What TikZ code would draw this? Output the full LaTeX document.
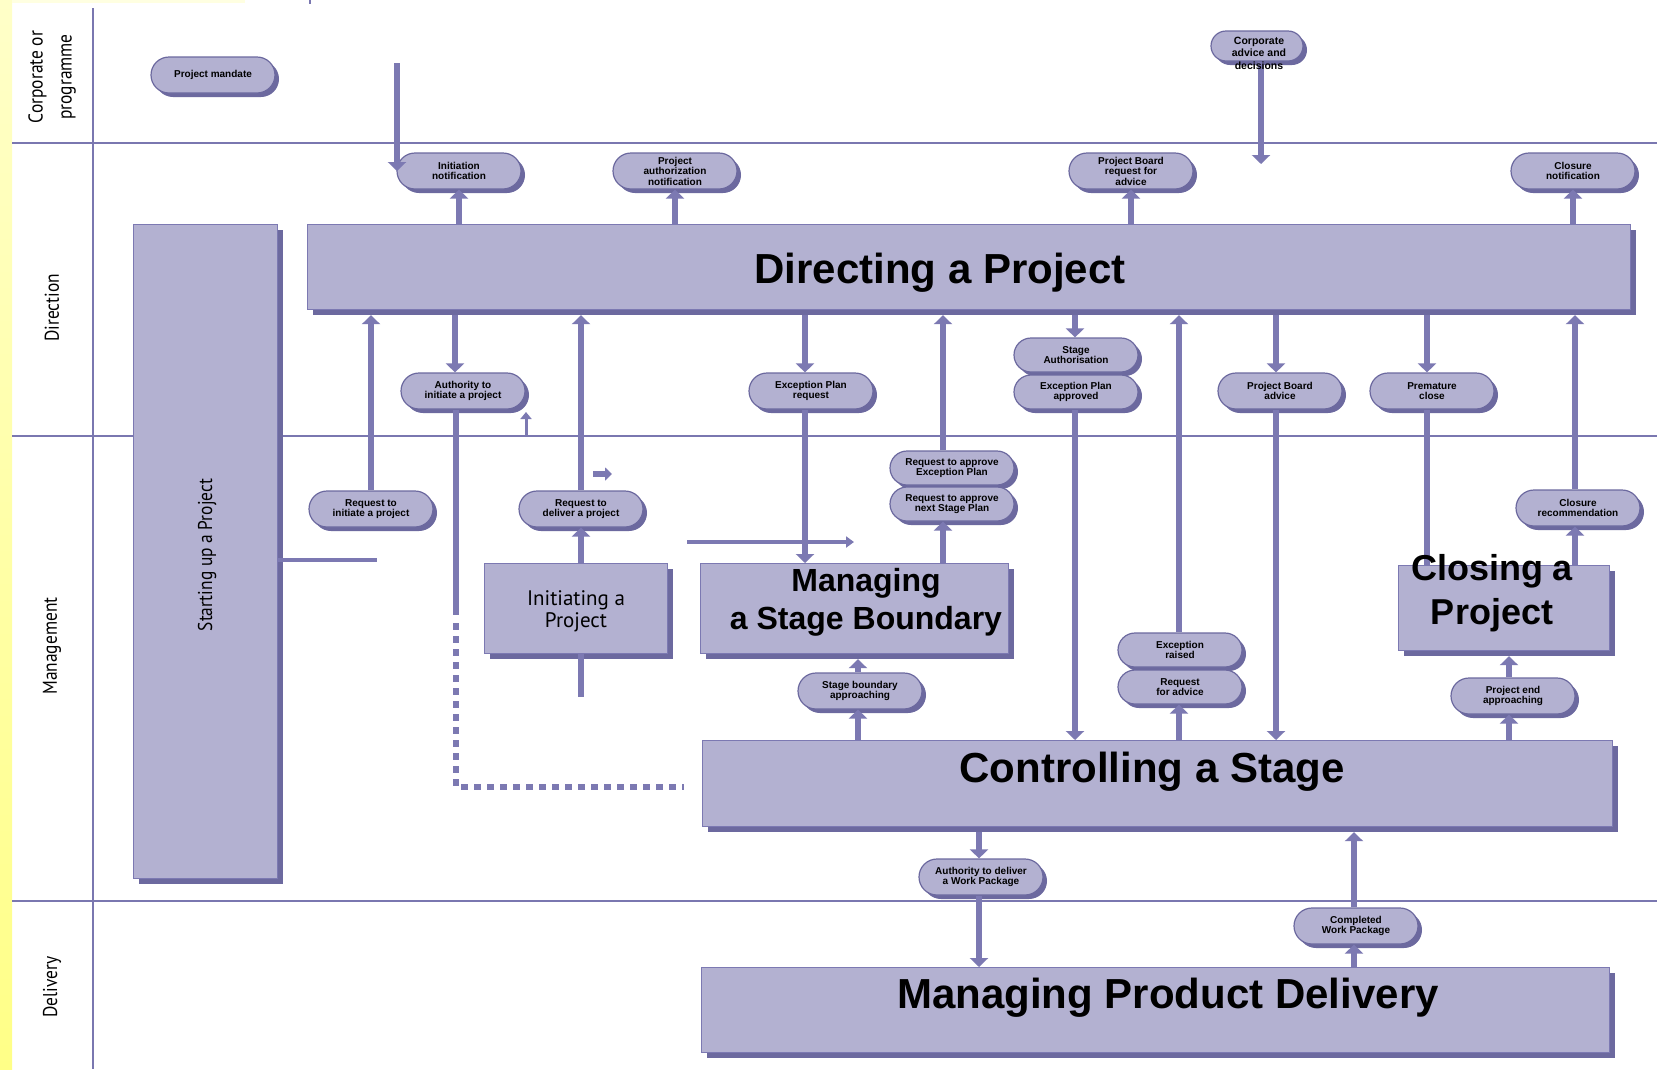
\documentclass[tikz,border=0pt]{standalone}
\usepackage{fontspec}
\setmainfont{Liberation Sans}
\newfontfamily\myr[FakeStretch=0.87]{PT Sans}
\newfontfamily\myrn{PT Sans}
\usetikzlibrary{arrows.meta,shapes.misc,shadows,calc}
\definecolor{lav}{RGB}{179,177,209}
\definecolor{lavd}{RGB}{108,105,159}
\definecolor{arrc}{RGB}{124,121,178}
\definecolor{lanec}{RGB}{122,119,176}
\definecolor{ylw}{RGB}{255,255,135}
\definecolor{ylwl}{RGB}{255,255,200}
\definecolor{ylwt}{RGB}{255,255,225}
\begin{document}
\begin{tikzpicture}[x=1pt,y=-1pt,
  pill/.style={rounded rectangle, fill=lav, draw=lavd, line width=1.2pt,
    minimum width=126pt, minimum height=36pt, inner sep=1pt, align=center,
    font=\fontsize{10}{10.5}\selectfont\bfseries,
    drop shadow={shadow xshift=4pt, shadow yshift=-4pt, fill=lavd, opacity=1}},
  proc/.style={rectangle, fill=lav, draw=arrc, line width=1.2pt, anchor=north west, inner sep=0pt,
    drop shadow={shadow xshift=5pt, shadow yshift=-5pt, fill=lavd, opacity=1}},
  bigt/.style={font=\bfseries\fontsize{42}{50}\selectfont, inner sep=0pt},
  lanelbl/.style={font=\myr\fontsize{20}{29}\selectfont, rotate=90, align=center, inner sep=0pt},
  lane/.style={draw=lanec, line width=2pt},
  arr/.style={draw=arrc, line width=6.5pt, -{Triangle[width=18pt,length=9pt]}},
  ln/.style={draw=arrc, line width=6.5pt},
  dashln/.style={draw=arrc, line width=6.5pt, dash pattern=on 7pt off 6pt},
  tharr/.style={draw=arrc, line width=3.5pt, -{Triangle[width=11pt,length=8pt]}},
  smarr/.style={draw=arrc, line width=3pt, -{Triangle[width=11pt,length=7pt]}},
  smarrb/.style={draw=arrc, line width=6pt, -{Triangle[width=13pt,length=7pt]}}
]
\useasboundingbox (0,0) rectangle (1657,1069);
\fill[white] (0,0) rectangle (1657,1069);
\shade[top color=ylwl, bottom color=ylw] (0,0) rectangle (12,1069);
\fill[ylwt] (12,0) rectangle (245,3);
\draw[lanec, line width=1.5pt] (310,0) -- (310,4);
% lanes
\draw[lane] (93,8) -- (93,1069);
\draw[lane] (12,143) -- (1657,143);
\draw[lane] (12,436) -- (1657,436);
\draw[lane] (12,901) -- (1657,901);
\node[lanelbl] (lcorp) at (52,77) {Corporate or\\programme};
\node[lanelbl] (ldir) at (52,308) {Direction};
\node[lanelbl] (lman) at (52,646) {Management};
\node[lanelbl] (ldel) at (52,987) {Delivery};

% process boxes
\node[proc, minimum width=144pt, minimum height=654pt] (su) at (133,224) {};
\node[proc, minimum width=1323pt, minimum height=85pt] (dap) at (307,224) {};
\node[proc, minimum width=183pt, minimum height=90pt] (ini) at (484,563) {};
\node[proc, minimum width=308pt, minimum height=90pt] (msb) at (700,563) {};
\node[proc, minimum width=211pt, minimum height=85pt] (clo) at (1398,565) {};
\node[proc, minimum width=910pt, minimum height=86pt] (cs) at (702,740) {};
\node[proc, minimum width=908pt, minimum height=85pt] (mpd) at (701,967) {};

% products (pills)
\node[pill] (mand) at (213,75) {Project mandate};
\node[pill, minimum width=94pt, minimum height=30pt] (corp) at (1257,46) {};
\node[pill] (init) at (459,171) {Initiation\\notification};
\node[pill] (pauth) at (675,171) {Project\\authorization\\notification};
\node[pill] (pbreq) at (1131,171) {Project Board\\request for\\advice};
\node[pill] (cnot) at (1573,171) {Closure\\notification};
\node[pill] (auth) at (463,391) {Authority to\\initiate a project};
\node[pill] (rinit) at (371,509) {Request to\\initiate a project};
\node[pill] (rdel) at (581,509) {Request to\\deliver a project};
\node[pill] (eprq) at (811,391) {Exception Plan\\request};
\node[pill, minimum height=34pt] (rqep) at (952,468) {Request to approve\\Exception Plan};
\node[pill, minimum height=34pt] (rqsp) at (952,504) {Request to approve\\next Stage Plan};
\node[pill, minimum height=34pt] (sauth) at (1076,355) {Stage\\Authorisation};
\node[pill, minimum height=34pt] (epap) at (1076,392) {Exception Plan\\approved};
\node[pill] (pbadv) at (1280,391) {Project Board\\advice};
\node[pill] (prem) at (1432,391) {Premature\\close};
\node[pill] (crec) at (1578,508) {Closure\\recommendation};
\node[pill] (sba) at (860,691) {Stage boundary\\approaching};
\node[pill, minimum height=34pt] (exr) at (1180,650) {Exception\\raised};
\node[pill, minimum height=34pt] (rfa) at (1180,687) {Request\\for advice};
\node[pill] (pea) at (1513,696) {Project end\\approaching};
\node[pill] (adel) at (981,877) {Authority to deliver\\a Work Package};
\node[pill] (cwp) at (1356,926) {Completed\\Work Package};

% x positions of connectors
\coordinate (xau) at (455,0);
\coordinate (xep) at (805,0);
\coordinate (xsa) at (1075,0);
\coordinate (xpb) at (1276,0);
\coordinate (xpr) at (1427,0);
\coordinate (xrq) at (943,0);
\coordinate (xex) at (1179,0);
\coordinate (xcr) at (1575,0);
\coordinate (xsb) at (858,0);
\coordinate (xpe) at (1509,0);
\coordinate (xad) at (979,0);
\coordinate (xcw) at (1354,0);

% corporate level
\coordinate (cin) at (397,63);
\draw[arr] (cin) -- (cin |- init.west);
\coordinate (cadv) at (1261,164);
\draw[arr] (corp.south -| cadv) -- (cadv);

% DAP outputs upwards
\draw[arr] (dap.north -| init) -- (init.south);
\draw[arr] (dap.north -| pauth) -- (pauth.south);
\draw[arr] (dap.north -| pbreq) -- (pbreq.south);
\draw[arr] (dap.north -| cnot) -- (cnot.south);

% DAP outputs downwards
\draw[arr] ($(dap.south -| xau)+(0,5)$) -- (auth.north -| xau);
\draw[arr] ($(dap.south -| xep)+(0,5)$) -- (eprq.north -| xep);
\draw[arr] (eprq.south -| xep) -- (msb.north -| xep);
\draw[arr] ($(dap.south -| xsa)+(0,5)$) -- (sauth.north -| xsa);
\draw[arr] (epap.south -| xsa) -- (cs.north -| xsa);
\draw[arr] ($(dap.south -| xpb)+(0,5)$) -- (pbadv.north -| xpb);
\draw[arr] (pbadv.south -| xpb) -- (cs.north -| xpb);
\draw[arr] ($(dap.south -| xpr)+(0,5)$) -- (prem.north -| xpr);
\draw[ln] (prem.south -| xpr) -- (clo.north -| xpr);

% inputs to DAP
\draw[arr] (rinit.north) -- ($(dap.south -| rinit)+(0,5)$);
\draw[arr] (rdel.north) -- ($(dap.south -| rdel)+(0,5)$);
\draw[arr] (rqep.north -| xrq) -- ($(dap.south -| xrq)+(0,5)$);
\draw[arr] (msb.north -| xrq) -- (rqsp.south -| xrq);
\draw[arr] (exr.north -| xex) -- ($(dap.south -| xex)+(0,5)$);
\draw[arr] (cs.north -| xex) -- (rfa.south -| xex);
\draw[arr] (crec.north -| xcr) -- ($(dap.south -| xcr)+(0,5)$);
\draw[arr] (clo.north -| xcr) -- (crec.south -| xcr);

% starting up / initiating
\coordinate (sul) at (377,560);
\draw[ln, line width=4.5pt] (su.east |- sul) -- (sul);
\draw[arr] (ini.north -| rdel) -- (rdel.south);
\coordinate (ibot) at (581,697);
\draw[ln] (ini.south -| ibot) -- (ibot);
\coordinate (ds1) at (456,615);
\draw[ln] (auth.south -| ds1) -- (ds1);
\coordinate (ds2) at (456,623);
\coordinate (ds3) at (456,787);
\coordinate (ds4) at (684,787);
\draw[dashln] (ds2) -- (ds3) -- (ds4);
\coordinate (sa1) at (526,436);
\coordinate (sa2) at (526,412);
\draw[smarr] (sa1) -- (sa2);
\coordinate (sr1) at (593,474);
\coordinate (sr2) at (612,474);
\draw[smarrb] (sr1) -- (sr2);
\coordinate (ha1) at (687,542);
\coordinate (ha2) at (854,542);
\draw[tharr] (ha1) -- (ha2);

% stage boundary / project end
\draw[arr] (sba.north -| xsb) -- ($(msb.south -| xsb)+(0,5)$);
\draw[arr] (cs.north -| xsb) -- (sba.south -| xsb);
\draw[arr] (pea.north -| xpe) -- ($(clo.south -| xpe)+(0,5)$);
\draw[arr] (cs.north -| xpe) -- (pea.south -| xpe);

% CS / MPD
\draw[arr] ($(cs.south -| xad)+(0,5)$) -- (adel.north -| xad);
\draw[arr] (adel.south -| xad) -- (mpd.north -| xad);
\draw[arr] (cwp.north -| xcw) -- ($(cs.south -| xcw)+(0,5)$);
\draw[arr] (mpd.north -| xcw) -- (cwp.south -| xcw);

% texts on top
\node[font=\fontsize{10.5}{12.5}\selectfont\bfseries, align=center, inner sep=0pt] (corpt) at (1259,53) {Corporate\\advice and\\decisions};
\node[font=\myr\fontsize{20}{24}\selectfont, rotate=90, inner sep=0pt] (sut) at (207,555) {Starting up a Project};
\node[bigt] (dapt) at (940,273) {Directing a Project};
\node[font=\myrn\fontsize{21}{22}\selectfont, align=center, inner sep=0pt] (init2) at (576,611) {Initiating a\\Project};
\node[font=\bfseries\fontsize{32}{38}\selectfont, align=center, inner sep=0pt] (msbt) at (866,602) {Managing\\a Stage Boundary};
\node[font=\bfseries\fontsize{36}{44}\selectfont, align=center, inner sep=0pt] (clot) at (1492,593) {Closing a\\Project};
\node[bigt] (cst) at (1152,772) {Controlling a Stage};
\node[bigt] (mpdt) at (1168,998) {Managing Product Delivery};
\end{tikzpicture}
\end{document}
